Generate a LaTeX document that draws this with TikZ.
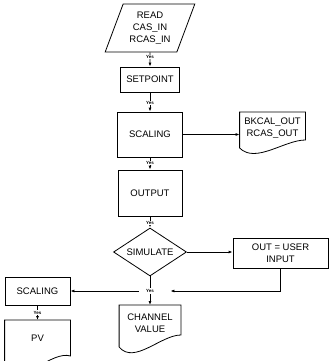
\documentclass[tikz,border=0pt]{standalone}
\usepackage{fontspec}
\setmainfont{Liberation Sans}
\usetikzlibrary{arrows.meta,shapes.geometric,calc}

\begin{document}
\begin{tikzpicture}[
		x=1pt,
		y=-1pt,
		line width=0.8pt,
		every node/.style={font=\fontsize{9.5}{12}\selectfont, align=center},
		box/.style={draw, rectangle, inner sep=0pt},
		doc/.style={rectangle, inner sep=0pt, anchor=north},
		yeslbl/.style={font=\fontsize{4.5}{5}\selectfont\bfseries, fill=white, inner sep=0.8pt},
		flow/.style={-{Latex[length=4pt,width=3pt]}}
		]
		
		% page of 330 by 361
		\clip (0,0) rectangle (330,361);
		
		% main column
		\node[draw, trapezium, trapezium left angle=67, trapezium right angle=113,
		trapezium stretches=true, minimum width=90pt, minimum height=48pt, inner sep=0pt]
		(read) at (150,28) {READ\\CAS\_IN\\RCAS\_IN};
		\node[box, minimum width=59pt, minimum height=25pt] (setpt) at (150,79.5) {SETPOINT};
		\node[box, minimum width=65pt, minimum height=45pt] (scal) at (150,134.5) {SCALING};
		\node[box, minimum width=64pt, minimum height=46pt] (outp) at (150,193) {OUTPUT};
		\node[draw, diamond, aspect=1.5, minimum width=73pt, minimum height=48pt, inner sep=0pt]
		(sim) at (150,252) {SIMULATE};
		\node[yeslbl, minimum width=22pt] (join) at (150,291) {Yes};
		\node[doc, minimum width=61pt, minimum height=36pt] (chan) at (150,305) {CHANNEL\\VALUE};
		
		% side branches
		\node[doc, minimum width=65pt, minimum height=31pt] (bkcal) at (272.5,112) {BKCAL\_OUT\\RCAS\_OUT};
		\node[box, minimum width=95pt, minimum height=30pt] (user) at (280.5,253) {OUT = USER\\INPUT};
		\node[box, minimum width=65pt, minimum height=28pt] (scalpv) at (37.5,291) {SCALING};
		\node[doc, minimum width=65pt, minimum height=36pt] (pv) at (37.5,320) {PV};
		
		% document outlines with wavy bottom
		\draw (chan.north west) -- (chan.north east) -- ($(chan.north east)+(0,30)$)
		.. controls ($(chan.north east)+(-20,30)$) and ($(chan.north west)+(15,60)$)
		.. ($(chan.north west)+(0,42)$) -- cycle;
		\draw (bkcal.north west) -- (bkcal.north east) -- ($(bkcal.north east)+(0,28)$)
		.. controls ($(bkcal.north east)+(-21,28)$) and ($(bkcal.north west)+(16,52)$)
		.. ($(bkcal.north west)+(0,36)$) -- cycle;
		\draw (pv.north west) -- (pv.north east) -- ($(pv.north east)+(0,36)$)
		.. controls ($(pv.north east)+(-18,30)$) and ($(pv.north west)+(16,66)$)
		.. ($(pv.north west)+(0,50)$) -- cycle;
		
		% connectors
		\draw[flow] (read) -- node[yeslbl, pos=0.33] {Yes} (setpt);
		\draw[flow] (setpt) -- node[yeslbl, pos=0.55] {Yes} (scal);
		\draw[flow] (scal) -- node[yeslbl, pos=0.46] {Yes} (outp);
		\draw[flow] (outp) -- node[yeslbl, pos=0.58] {Yes} (sim);
		\draw[flow] (scal.east) -- (scal.east -| bkcal.west);
		\draw[flow] (sim.east) -- (sim.east -| user.west);
		\draw (sim) -- (join);
		\draw[flow] (join) -- (chan);
		\draw[flow, shorten >=9pt] (user.south) |- (join.east);
		\draw[flow] (join) -- (scalpv);
		\draw[flow] (scalpv) -- node[yeslbl] {Yes} (pv);
		
	\end{tikzpicture}
\end{document}
